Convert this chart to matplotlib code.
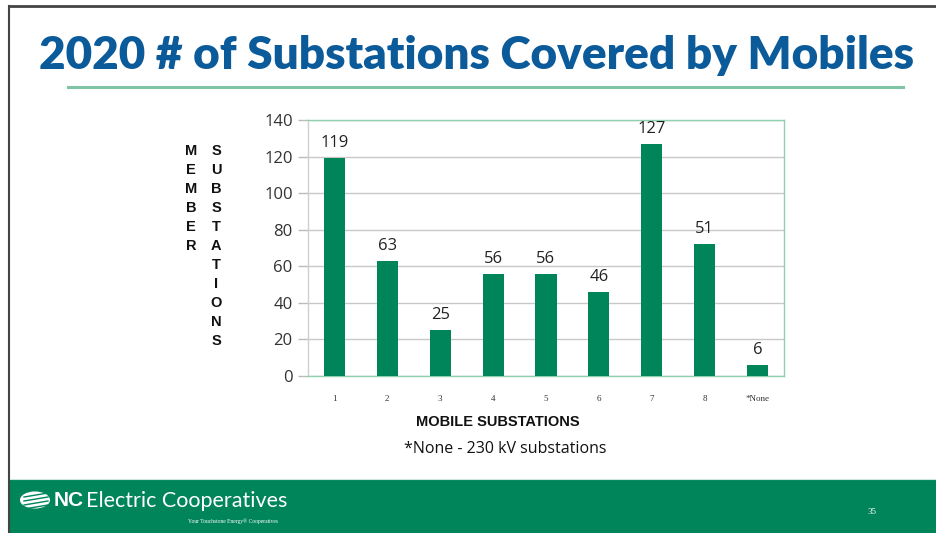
import matplotlib
matplotlib.use("Agg")
import matplotlib.pyplot as plt
from matplotlib.patches import Rectangle, Circle
from matplotlib.lines import Line2D

categories = ["1", "2", "3", "4", "5", "6", "7", "8", "*None"]
bar_heights = [119, 63, 25, 56, 56, 46, 127, 72, 6]
bar_labels = ["119", "63", "25", "56", "56", "46", "127", "51", "6"]
y_ticks = [0, 20, 40, 60, 80, 100, 120, 140]

title = "2020 # of Substations Covered by Mobiles"
x_title = "MOBILE SUBSTATIONS"
y_title_1 = "MEMBER"
y_title_2 = "SUBSTATIONS"
note = "*None - 230 kV substations"
footer_bold = "NC"
footer_text = "Electric Cooperatives"
tagline = "Your Touchstone Energy\u00ae Cooperatives"
page_num = "35"

GREEN = "#00845a"
BLUE = "#0b5a9a"

W, H = 937, 533
fig = plt.figure(figsize=(W / 100, H / 100), dpi=100)
fig.patch.set_facecolor("white")

def fx(px):
    return px / W

def fy(py):
    return 1 - py / H

# slide frame and footer
fig.add_artist(Rectangle((fx(10), 0), 1 - fx(10), fy(479), transform=fig.transFigure,
                         facecolor=GREEN, edgecolor="none"))
fig.add_artist(Line2D([fx(9), fx(935)], [fy(6), fy(6)], transform=fig.transFigure,
                      color="#444444", lw=2))
fig.add_artist(Line2D([fx(9), fx(9)], [fy(6), 0], transform=fig.transFigure,
                      color="#444444", lw=1.5))
fig.add_artist(Line2D([fx(10), 1], [fy(479), fy(479)], transform=fig.transFigure,
                      color="#cfe6dc", lw=0.8))

# title and underline
fig.text(fx(477), fy(55), title, ha="center", va="center", color=BLUE,
         fontsize=33, fontweight="heavy", family="Lato")
fig.add_artist(Line2D([fx(68), fx(903)], [fy(87), fy(87)], transform=fig.transFigure,
                      color="#7fc4a4", lw=2.2))

# axes
ax = fig.add_axes([fx(308), fy(376), fx(784) - fx(308), fy(120) - fy(376)])
x = list(range(len(categories)))
bars = ax.bar(x, bar_heights, width=0.4, color=GREEN, zorder=3)
ax.set_xlim(-0.5, len(categories) - 0.5)
ax.set_ylim(0, 140)
ax.set_yticks(y_ticks)
ax.set_yticklabels([str(v) for v in y_ticks], fontsize=12, color="#333333", family="Open Sans")
ax.set_xticks(x)
ax.set_xticklabels(categories, fontsize=6.5, color="#333333", family="Liberation Serif")
ax.tick_params(axis="x", length=0, pad=14)
ax.tick_params(axis="y", length=7, color="#bbbbbb", width=1, pad=4)
ax.yaxis.grid(True, color="#c8c8c8", lw=1, zorder=0)
ax.set_axisbelow(True)
for s in ["top", "right", "bottom"]:
    ax.spines[s].set_color("#8fd0b0")
    ax.spines[s].set_linewidth(1)
ax.spines["left"].set_color("#d0d0d0")
ax.spines["left"].set_linewidth(1)

for xi, h, lab in zip(x, bar_heights, bar_labels):
    ax.annotate(lab, (xi, h), xytext=(0, 5), textcoords="offset points",
                ha="center", va="bottom", fontsize=12, color="#222222", family="Open Sans")

# axis titles
fig.text(fx(498), fy(422), x_title, ha="center", va="center", fontsize=10.5,
         fontweight="bold", family="Liberation Sans", color="#111111")
fig.text(fx(505), fy(449), note, ha="center", va="center", fontsize=11.5,
         family="Open Sans", color="#111111")

for i, ch in enumerate(y_title_1):
    fig.text(fx(191), fy(151 + i * 19), ch, ha="center", va="center", fontsize=10.5,
             fontweight="bold", family="Liberation Sans", color="#111111")
for i, ch in enumerate(y_title_2):
    fig.text(fx(216), fy(151 + i * 19), ch, ha="center", va="center", fontsize=10.5,
             fontweight="bold", family="Liberation Sans", color="#111111")

# footer logo
fig.add_artist(Circle((fx(35), fy(500)), 15 / W, transform=fig.transFigure,
                      facecolor="white", edgecolor="none"))
for k in range(4):
    fig.add_artist(Line2D([fx(24), fx(48)], [fy(497 + k * 4), fy(493 + k * 4)],
                          transform=fig.transFigure, color=GREEN, lw=1))
fig.text(fx(54), fy(501), footer_bold, ha="left", va="center", color="white",
         fontsize=15, fontweight="bold", family="Liberation Sans")
fig.text(fx(86), fy(501), footer_text, ha="left", va="center", color="white",
         fontsize=15.5, family="Lato")
fig.text(fx(278), fy(521), tagline, ha="right", va="center", color="white",
         fontsize=4, family="Liberation Serif")
fig.text(fx(872), fy(512), page_num, ha="center", va="center", color="white",
         fontsize=6.5, family="Liberation Serif")

fig.savefig("out.png", dpi=100)
